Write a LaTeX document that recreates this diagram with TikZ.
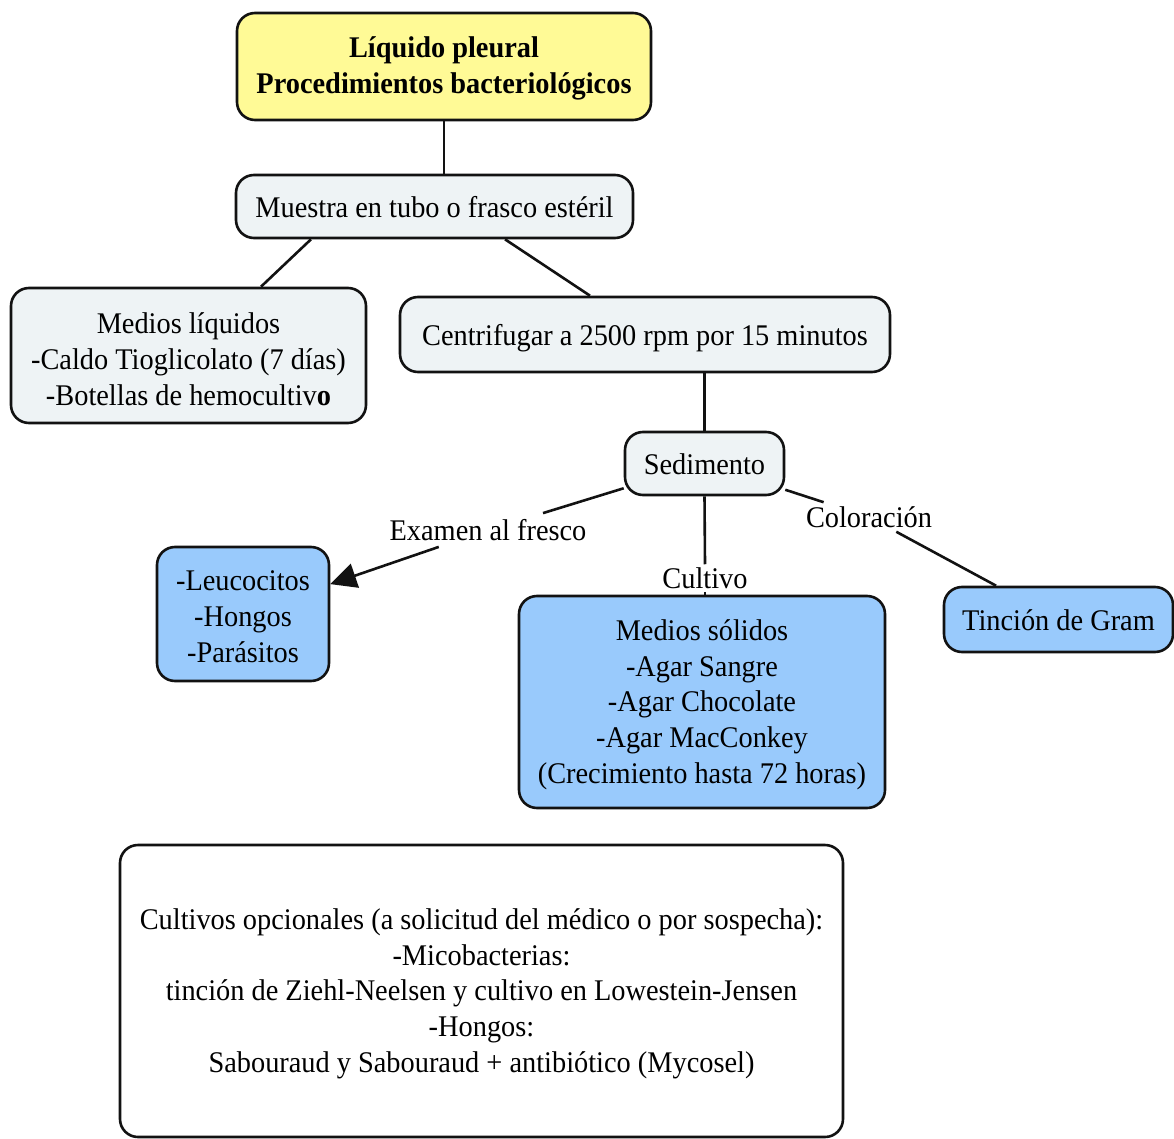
\documentclass[tikz,border=0pt]{standalone}
\usepackage{fontspec}
\setmainfont[FakeStretch=0.945]{Liberation Serif}
\usetikzlibrary{arrows.meta,calc}
\definecolor{boxline}{RGB}{18,18,18}
\definecolor{paleyellow}{RGB}{255,250,150}
\definecolor{palegrey}{RGB}{238,243,245}
\definecolor{skyblue}{RGB}{153,202,252}
% invisible strut that sets the height of the first text row
\newcommand{\rowstrut}[1]{\rule{0pt}{#1pt}}
\begin{document}
\begin{tikzpicture}[x=1pt,y=-1pt,
  box/.style={draw=boxline, line width=2.6pt, rounded corners=18pt, inner sep=0pt,
              align=center, font=\fontsize{30}{35.7}\selectfont},
  oneline/.style={execute at begin node={\rule{0pt}{28pt}},
                  execute at end node={\rule[-6pt]{0pt}{0pt}}},
  titlebox/.style={box, fill=paleyellow, font=\bfseries\fontsize{30}{35.7}\selectfont},
  greybox/.style={box, fill=palegrey},
  bluebox/.style={box, fill=skyblue},
  plainbox/.style={box, fill=white},
  lbl/.style={inner xsep=4pt, inner ysep=6pt, font=\fontsize{30}{35.7}\selectfont},
  link/.style={draw=boxline, line width=2.6pt}]
\useasboundingbox (0,0) rectangle (1174,1139);

% concept boxes
\node[titlebox, minimum width=414pt, minimum height=107pt] (tit) at (444,66.5)
  {\rowstrut{24}Líquido pleural\\Procedimientos bacteriológicos};
\node[greybox, oneline, minimum width=397pt, minimum height=63pt] (mue) at (434.5,206.5)
  {Muestra en tubo o frasco estéril};
\node[greybox, minimum width=355pt, minimum height=135pt] (liq) at (188.5,355.5)
  {\rowstrut{28}Medios líquidos\\-Caldo Tioglicolato (7 días)\\-Botellas de hemocultiv\textbf{o}};
\node[greybox, oneline, minimum width=490pt, minimum height=75pt] (cen) at (645,334.5)
  {Centrifugar a 2500 rpm por 15 minutos};
\node[greybox, oneline, minimum width=159pt, minimum height=63pt] (sed) at (704.5,463.5)
  {Sedimento};
\node[bluebox, minimum width=172pt, minimum height=134pt] (leu) at (243,614)
  {\rowstrut{25}-Leucocitos\\-Hongos\\-Parásitos};
\node[bluebox, minimum width=366pt, minimum height=212pt] (sol) at (702,702)
  {\rowstrut{26}Medios sólidos\\-Agar Sangre\\-Agar Chocolate\\-Agar MacConkey\\(Crecimiento hasta 72 horas)};
\node[bluebox, oneline, minimum width=229pt, minimum height=65pt] (gram) at (1058.5,619.5)
  {Tinción de Gram};
\node[plainbox, minimum width=723pt, minimum height=292pt] (opt) at (481.5,991)
  {\rowstrut{26}Cultivos opcionales (a solicitud del médico o por sospecha):\\-Micobacterias:\\
   tinción de Ziehl-Neelsen y cultivo en Lowestein-Jensen\\-Hongos:\\
   Sabouraud y Sabouraud + antibiótico (Mycosel)};

% linking phrases
\node[lbl] (exa) at (488,530) {Examen al fresco};
\node[lbl, inner ysep=3pt] (cul) at (705,578) {Cultivo};
\node[lbl, inner ysep=4pt] (col) at (869,517) {Coloración};

% connectors
\draw[link] (tit.south) -- (tit.south |- mue.north);
\draw[link] ($(mue.south)+(-123.5,0)$) -- ($(liq.north)+(72.5,0)$);
\draw[link] ($(mue.south)+(70.5,0)$) -- ($(cen.north)+(-55,0)$);
\draw[link] (sed.north |- cen.south) -- (sed.north);
\draw[link] (sed) -- (exa);
\draw[link, -{Triangle[length=26pt,width=25pt]}] (exa) -- (leu);
\draw[link] (sed.south) -- (cul.north);
\draw[link] (cul.south) -- (cul.south |- sol.north);
\draw[link] (sed) -- (col);
\draw[link] (col) -- (gram);
\end{tikzpicture}
\end{document}
